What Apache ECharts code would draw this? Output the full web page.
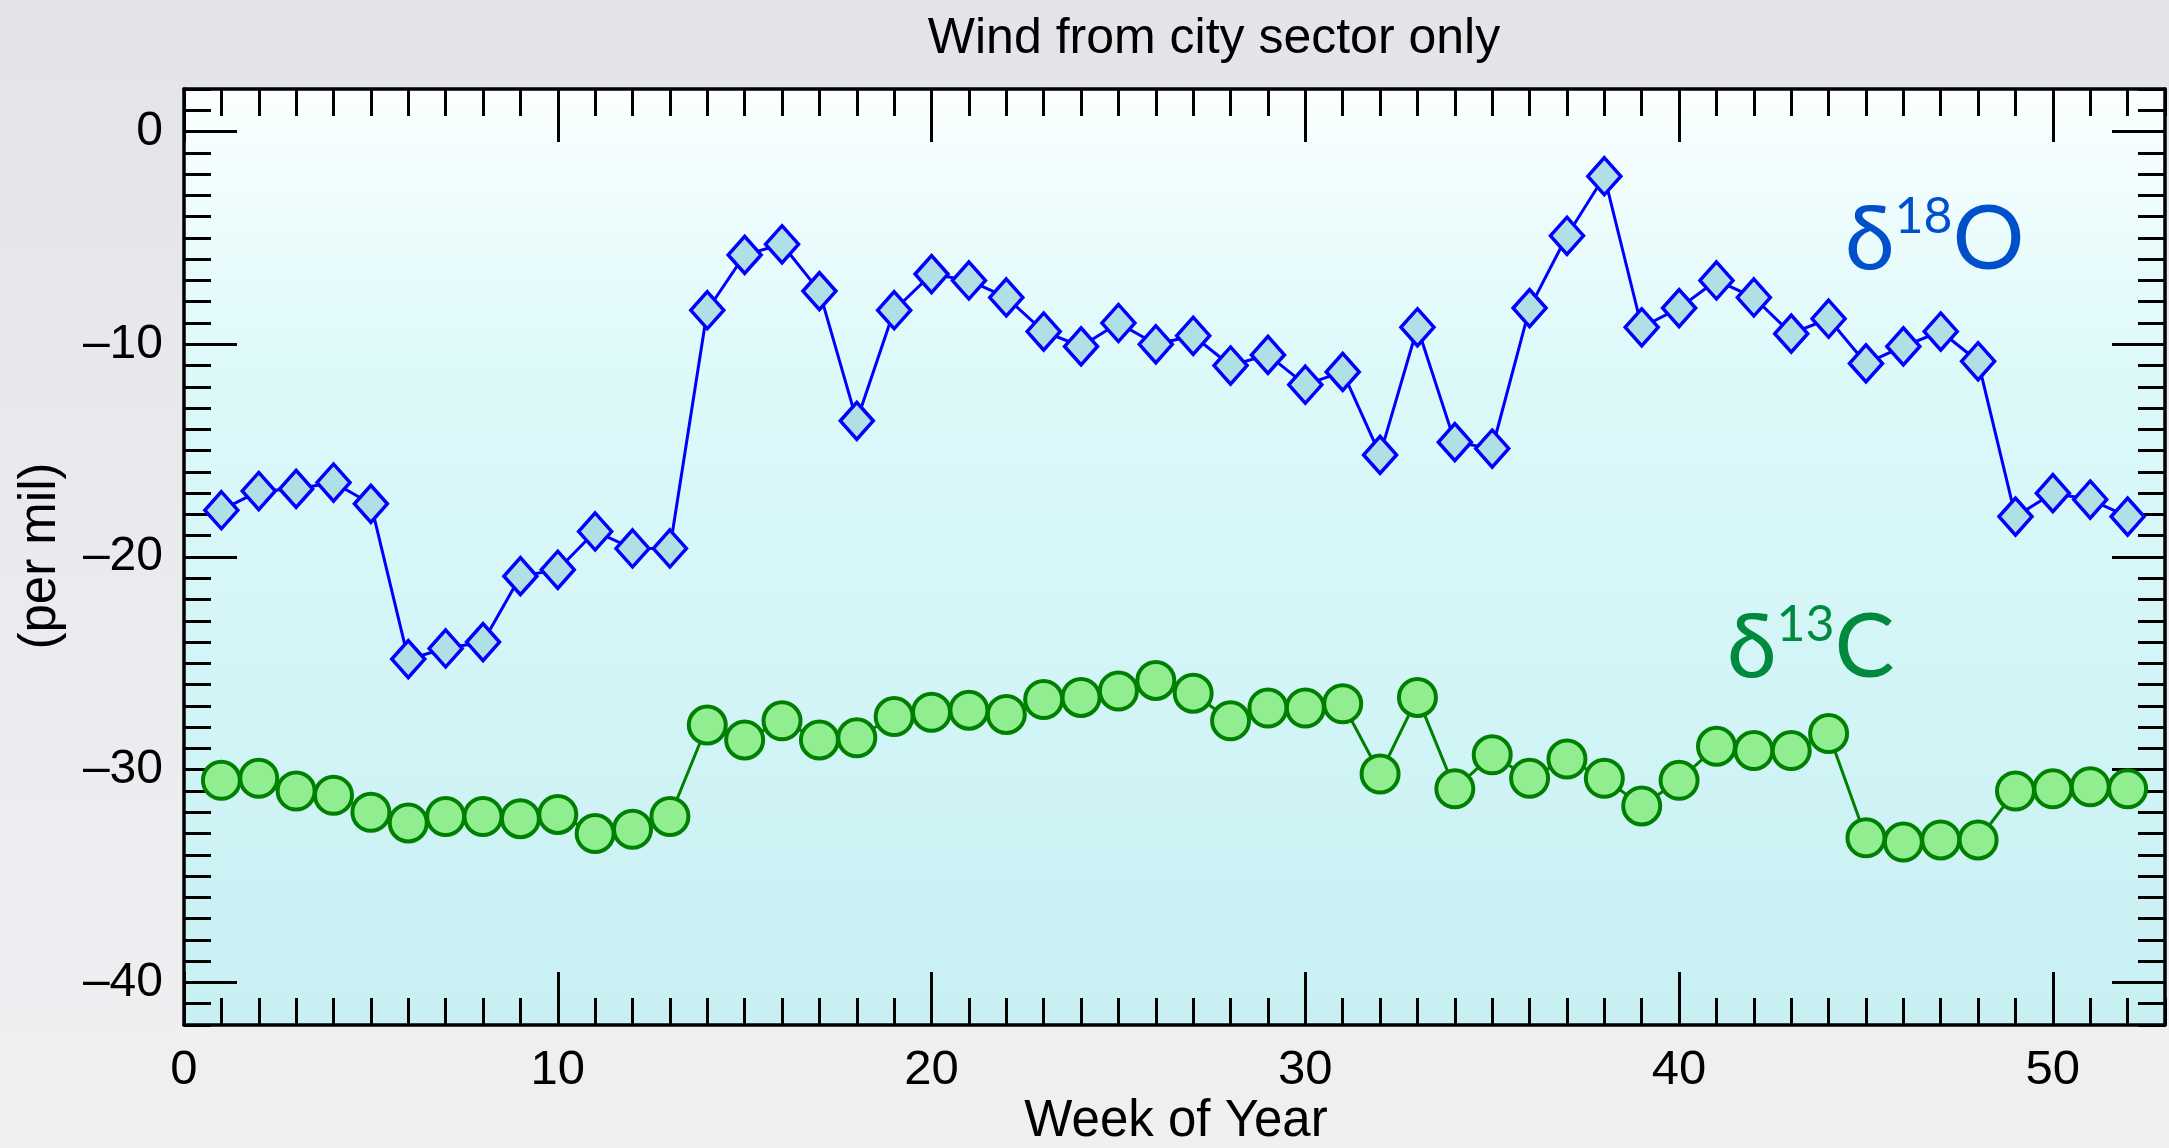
<!DOCTYPE html>
<html>
<head>
<meta charset="utf-8">
<script src="https://cdn.jsdelivr.net/npm/echarts@6/dist/echarts.min.js"></script>
<style>
html,body{margin:0;padding:0;}
body{width:2169px;height:1148px;background:linear-gradient(180deg,#e3e4e8 0%,#eaebee 50%,#f0f0f3 100%);}
#chart{width:2169px;height:1148px;}
</style>
</head>
<body>
<div id="chart"></div>
<script>
// ---- data ----
const weeks = [1,2,3,4,5,6,7,8,9,10,11,12,13,14,15,16,17,18,19,20,21,22,23,24,25,26,27,28,29,30,31,32,33,34,35,36,37,38,39,40,41,42,43,44,45,46,47,48,49,50,51,52];
const d18O = [-17.8,-16.9,-16.8,-16.5,-17.5,-24.8,-24.3,-24.0,-20.9,-20.6,-18.8,-19.6,-19.6,-8.4,-5.8,-5.3,-7.5,-13.6,-8.4,-6.7,-7.0,-7.8,-9.4,-10.1,-9.0,-10.0,-9.6,-11.0,-10.5,-11.9,-11.3,-15.2,-9.2,-14.6,-14.9,-8.3,-4.9,-2.1,-9.2,-8.3,-7.0,-7.8,-9.5,-8.8,-10.9,-10.1,-9.4,-10.8,-18.1,-17.0,-17.3,-18.1];
const d13C = [-30.5,-30.4,-31.0,-31.2,-32.0,-32.5,-32.2,-32.2,-32.3,-32.1,-33.0,-32.8,-32.2,-27.9,-28.6,-27.7,-28.6,-28.5,-27.5,-27.3,-27.2,-27.4,-26.7,-26.6,-26.3,-25.8,-26.4,-27.7,-27.1,-27.1,-26.9,-30.2,-26.6,-30.9,-29.3,-30.4,-29.5,-30.4,-31.7,-30.5,-28.9,-29.1,-29.1,-28.3,-33.2,-33.4,-33.3,-33.3,-31.0,-30.9,-30.8,-30.9];
const xTickLabels = [0,10,20,30,40,50];
const yTickLabels = [-40,-30,-20,-10,0];
const xRange = [0,53];
const yRange = [-42,2];
const titleText = 'Wind from city sector only';
const xTitle = 'Week of Year';
const yTitle = '(per mil)';

// minor ticks: every integer along each axis
const xMinor = [];
for (let v = xRange[0]; v <= xRange[1]; v++) xMinor.push(v);
const yMinor = [];
for (let v = yRange[0]; v <= yRange[1]; v++) yMinor.push(v);

const FONT = '"Liberation Sans", Arial, Helvetica, sans-serif';
const SYMF = '"Lato", "Noto Sans", sans-serif';
const fmt = v => (v < 0 ? '\u2013' + Math.abs(v) : String(v));

function xAx(pos, ticks, len, line, labels) {
  return {
    type: 'value', position: pos, min: xRange[0], max: xRange[1],
    axisLine: {show: line, onZero: false, lineStyle: {color: '#000', width: 3.5}},
    axisTick: {show: true, inside: true, length: len, customValues: ticks, lineStyle: {color: '#000', width: 3}},
    axisLabel: labels ? {show: true, customValues: xTickLabels, formatter: fmt, color: '#000', fontSize: 49, fontFamily: FONT, margin: 21} : {show: false},
    splitLine: {show: false}
  };
}
function yAx(pos, ticks, len, line, labels) {
  return {
    type: 'value', position: pos, min: yRange[0], max: yRange[1],
    axisLine: {show: line, onZero: false, lineStyle: {color: '#000', width: 3.5}},
    axisTick: {show: true, inside: true, length: len, customValues: ticks, lineStyle: {color: '#000', width: 3}},
    axisLabel: labels ? {show: true, customValues: yTickLabels, formatter: fmt, color: '#000', fontSize: 48, fontFamily: FONT, margin: 21} : {show: false},
    splitLine: {show: false}
  };
}

function deltaLabel(sup, el, color) {
  return {
    text: '{a|\u03b4}{b|' + sup + '}{c|' + el + '}', align: 'left', verticalAlign: 'middle',
    rich: {
      a: {fontSize: 90, fontFamily: SYMF, fill: color, lineHeight: 96},
      b: {fontSize: 50, fontFamily: SYMF, fill: color, verticalAlign: 'top', lineHeight: 62},
      c: {fontSize: 90, fontFamily: SYMF, fill: color, lineHeight: 96}
    }
  };
}

const chart = echarts.init(document.getElementById('chart'), null, {renderer: 'canvas'});
chart.setOption({
  backgroundColor: 'transparent',
  animation: false,
  title: {
    text: titleText, left: 1209, top: 9, textAlign: 'center',
    textStyle: {fontSize: 50, fontWeight: 'normal', color: '#000', fontFamily: FONT}
  },
  grid: {
    left: 184, right: 4, top: 89, bottom: 123, show: true, borderWidth: 0,
    outerBoundsMode: 'none',
    backgroundColor: {type: 'linear', x: 0, y: 0, x2: 0, y2: 1, colorStops: [
      {offset: 0, color: '#fbffff'}, {offset: 0.3, color: '#ddf9fa'}, {offset: 1, color: '#c8f0f3'}
    ]}
  },
  xAxis: [
    xAx('bottom', xTickLabels, 53, true, true),
    xAx('bottom', xMinor, 27, false, false),
    xAx('top', xTickLabels, 53, true, false),
    xAx('top', xMinor, 27, false, false)
  ],
  yAxis: [
    yAx('left', yTickLabels, 53, true, true),
    yAx('left', yMinor, 27, false, false),
    yAx('right', yTickLabels, 53, true, false),
    yAx('right', yMinor, 27, false, false)
  ],
  graphic: [
    {type: 'text', x: 1176, y: 1122, style: {text: xTitle, fontSize: 51, fontFamily: FONT, fill: '#000', align: 'center', verticalAlign: 'middle'}},
    {type: 'text', x: 41, y: 556, rotation: Math.PI / 2, style: {text: yTitle, fontSize: 51, fontFamily: FONT, fill: '#000', align: 'center', verticalAlign: 'middle'}},
    {type: 'text', x: 1845, y: 240, style: deltaLabel('18', 'O', '#0050cc')},
    {type: 'text', x: 1727, y: 648, style: deltaLabel('13', 'C', '#008a3e')}
  ],
  series: [
    {
      name: '\u03b418O', type: 'line', xAxisIndex: 0, yAxisIndex: 0,
      data: weeks.map((w, i) => [w, d18O[i]]),
      symbol: 'diamond', symbolSize: [33, 37],
      lineStyle: {color: '#0000ff', width: 3},
      itemStyle: {color: '#b0e0e6', borderColor: '#0000ff', borderWidth: 3.5}
    },
    {
      name: '\u03b413C', type: 'line', xAxisIndex: 0, yAxisIndex: 0,
      data: weeks.map((w, i) => [w, d13C[i]]),
      symbol: 'circle', symbolSize: 37,
      lineStyle: {color: '#008000', width: 3},
      itemStyle: {color: '#90ee90', borderColor: '#008000', borderWidth: 4}
    }
  ]
});
</script>
</body>
</html>
